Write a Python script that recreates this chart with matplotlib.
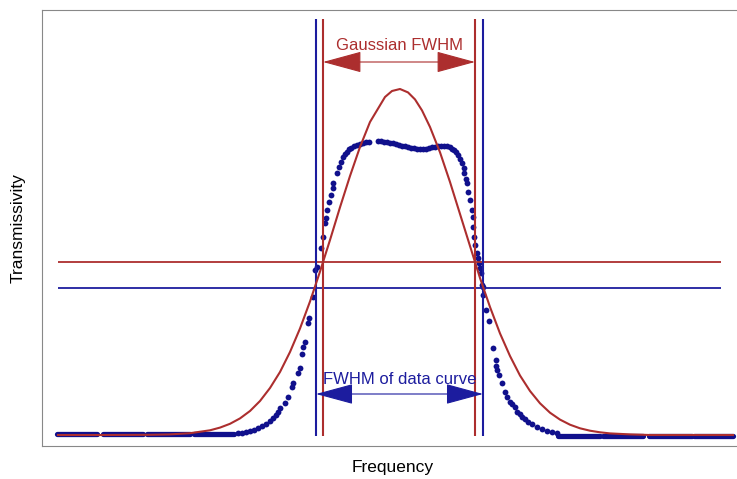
import matplotlib.pyplot as plt

freq = [238, 242, 246, 250, 254, 258, 262, 266, 270, 273, 276, 278, 280, 285, 288,
        292, 293, 298, 300, 302, 303, 305, 308, 309, 313, 315, 317, 321, 323, 325,
        326, 327, 329, 331, 333, 333, 337, 339, 341, 343, 345, 347, 349, 351, 354,
        357, 360, 363, 366, 369, 378, 381, 384, 387, 390, 393, 396, 399, 402, 405,
        408, 411, 414, 417, 420, 423, 426, 429, 432, 435, 438, 441, 444, 447, 450,
        452, 454, 456, 458, 460, 462, 464, 464, 466, 467, 468, 470, 472, 473, 473,
        474, 475, 477, 478, 479, 480, 481, 482, 483, 483, 486, 489, 493, 496, 496,
        497, 499, 502, 505, 507, 510, 512, 515, 517, 520, 522, 525, 528, 532, 537,
        542, 547, 552, 557]
trans = [13, 13.5, 14.5, 15.5, 16.5, 18, 20, 22, 25, 28, 31, 34, 38, 43, 49,
         59, 63, 73, 78, 92, 99, 104, 123, 128, 149, 176, 179, 198, 209, 223,
         228, 236, 244, 251, 258, 263, 273, 279, 284, 289, 292, 294, 297, 298.5, 300,
         301.5, 302.5, 303.5, 304, 304, 305, 305, 304.5, 304, 303.5, 303, 302, 301, 300.5, 300,
         299, 298.5, 298, 297.5, 297, 297, 297.5, 298, 299, 299.5, 300, 300.5, 300.5, 300, 299,
         297.5, 296, 294, 291, 287, 283, 278, 273, 267, 263, 254, 246, 236, 229, 219,
         209, 201, 193, 188, 183, 178, 173, 161, 159, 151, 136, 125, 98, 86, 80,
         76, 71, 63, 54, 49, 44, 42, 39, 34, 32, 29, 27, 24, 22, 19,
         17, 15, 14, 13]

# flat wings of the data, dense runs of points
wing_left = [(57, 97), (103, 143), (147, 190), (194, 234)]
wing_right = [(558, 600), (603, 643), (649, 692), (694, 733)]
wing_left_level = 12
wing_right_level = 10

# gaussian fit
fit_freq = [58, 100, 150, 170, 190, 210, 220, 230, 240, 250, 260, 270, 280, 290, 300,
            310, 320, 330, 340, 350, 360, 370, 385, 392, 400, 408, 415, 422, 430, 440,
            450, 460, 470, 480, 490, 500, 510, 520, 530, 540, 550, 560, 570, 580, 590,
            600, 610, 630, 650, 733]
fit_trans = [11, 11, 11.2, 11.6, 12.8, 15.7, 18.4, 22.2, 27.6, 35, 45, 58, 74, 94, 117.5,
             144.5, 174.4, 206, 238.7, 270, 299, 324, 349, 355, 357, 353.6, 346.6, 335.6, 319, 293.7,
             264, 232, 200, 168, 139, 112.6, 90, 70.5, 55, 42.7, 33.3, 26.4, 21.3, 17.7, 15.3,
             13.7, 12.6, 11.6, 11, 11]

fit_half = 184
fit_edges = [323, 475]
data_half = 158
data_edges = [316, 483]

RED = '#AC2E2E'
BLUE = '#1C1C9E'
DOT = '#10108C'

plt.rcParams['font.family'] = ['Liberation Sans', 'DejaVu Sans']

fig = plt.figure(figsize=(7.37, 4.79), dpi=100)
ax = fig.add_axes([42 / 737, 33 / 479, 702 / 737, 436 / 479])
ax.set_xlim(42, 744)
ax.set_ylim(0, 436)

for a, b in wing_left:
    ax.plot([a, b], [wing_left_level] * 2, color=DOT, lw=3.8, solid_capstyle='round')
for a, b in wing_right:
    ax.plot([a, b], [wing_right_level] * 2, color=DOT, lw=3.8, solid_capstyle='round')
ax.plot(freq, trans, 'o', color=DOT, ms=4.2, mew=0)

ax.plot(fit_freq, fit_trans, color=RED, lw=1.5, zorder=4)

ax.hlines(fit_half, 58, 721, color=RED, lw=1.3)
ax.hlines(data_half, 58, 721, color=BLUE, lw=1.3)
ax.vlines(fit_edges, 10, 427, color=RED, lw=1.5)
ax.vlines(data_edges, 10, 427, color=BLUE, lw=1.5)

ax.annotate('', xy=(fit_edges[0], 384), xytext=(fit_edges[1], 384),
            arrowprops=dict(arrowstyle='<|-|>,head_length=25,head_width=6.8',
                            mutation_scale=1, color=RED, lw=0.8, shrinkA=0, shrinkB=0))
ax.text(400, 400, 'Gaussian FWHM', color=RED, fontsize=12, ha='center', va='center')

ax.annotate('', xy=(data_edges[0], 52), xytext=(data_edges[1], 52),
            arrowprops=dict(arrowstyle='<|-|>,head_length=24,head_width=6.5',
                            mutation_scale=1, color=BLUE, lw=0.8, shrinkA=0, shrinkB=0))
ax.text(400, 67, 'FWHM of data curve', color=BLUE, fontsize=12, ha='center', va='center')

for s in ['left', 'bottom', 'top']:
    ax.spines[s].set_color('#888888')
ax.spines['right'].set_visible(False)
ax.set_xticks([])
ax.set_yticks([])
ax.set_xlabel('Frequency', fontsize=12.5, labelpad=10)
ax.set_ylabel('Transmissivity', fontsize=12.5, labelpad=12)

fig.savefig('out.png', dpi=100)
